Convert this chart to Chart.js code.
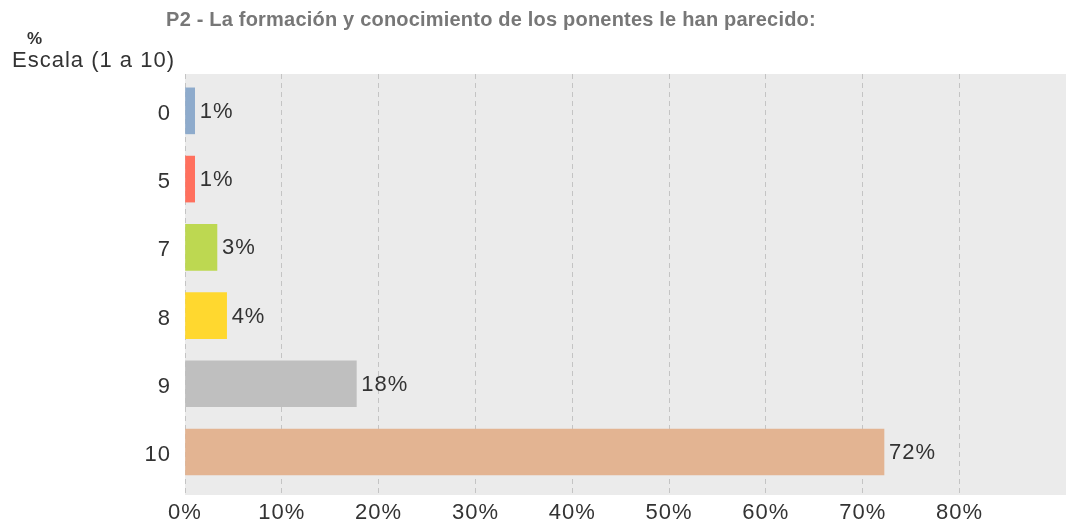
<!DOCTYPE html>
<html>
<head>
<meta charset="utf-8">
<script src="https://cdn.jsdelivr.net/npm/chart.js@4/dist/chart.umd.min.js"></script>
<style>
  body { margin: 0; background: #fff; }
  #c { display: block; }
</style>
</head>
<body>
<canvas id="c" width="1066" height="523"></canvas>
<script>
const categories = ["0", "5", "7", "8", "9", "10"];
const percents = [1.0, 1.0, 3.3, 4.3, 17.7, 72.2];
const barColors = ["#8eabcc", "#ff705e", "#bdd851", "#ffd82f", "#bfbfbf", "#e3b492"];
const tickValues = [0, 10, 20, 30, 40, 50, 60, 70, 80];

const chartTitle = "P2 - La formación y conocimiento de los ponentes le han parecido:";
const FONT = "'Liberation Sans', Arial, sans-serif";

// background, spacing and the free texts around the plot
const decor = {
    id: "decor",
    beforeDraw(chart) {
        const { ctx, chartArea: a } = chart;
        ctx.letterSpacing = "1px";
        ctx.save();
        ctx.fillStyle = "#ebebeb";
        ctx.fillRect(a.left, a.top, a.right - a.left, a.bottom - a.top);

        ctx.fillStyle = "#777";
        ctx.font = "bold 20px " + FONT;
        ctx.textAlign = "center";
        ctx.textBaseline = "middle";
        ctx.letterSpacing = "0.2px";
        ctx.fillText(chartTitle, 491, 20);

        ctx.letterSpacing = "1px";
        ctx.fillStyle = "#333";
        ctx.font = "bold 17px " + FONT;
        ctx.fillText("%", 35, 39);
        ctx.font = "22px " + FONT;
        ctx.textAlign = "left";
        ctx.fillText("Escala (1 a 10)", 12, 61);
        ctx.restore();
    },
    afterDatasetsDraw(chart) {
        const { ctx } = chart;
        ctx.save();
        ctx.fillStyle = "#333";
        ctx.font = "22px " + FONT;
        ctx.textAlign = "left";
        ctx.textBaseline = "middle";
        chart.getDatasetMeta(0).data.forEach((bar, i) => {
            ctx.fillText(Math.round(percents[i]) + "%", bar.x + 5, bar.y + 1);
        });
        ctx.restore();
    }
};

new Chart(document.getElementById("c"), {
    type: "bar",
    data: {
        datasets: [{
            data: percents.map((v, i) => ({ x: v, y: i })),
            backgroundColor: barColors,
            borderWidth: 0,
            barThickness: 46
        }]
    },
    options: {
        indexAxis: "y",
        responsive: false,
        animation: false,
        layout: { padding: { top: 74, right: 0, left: 0, bottom: 0 } },
        plugins: {
            legend: { display: false },
            tooltip: { enabled: false }
        },
        scales: {
            x: {
                type: "linear",
                min: 0,
                max: 91,
                afterBuildTicks(scale) {
                    scale.ticks = tickValues.map(v => ({ value: v }));
                },
                afterFit(scale) { scale.height = 28; },
                grid: { color: "#c4c4c4", drawTicks: false },
                border: { display: false, dash: [5, 4] },
                ticks: {
                    padding: 5,
                    color: "#333",
                    font: { family: FONT, size: 22 },
                    callback: v => v + "%"
                }
            },
            y: {
                type: "linear",
                offset: false,
                reverse: true,
                min: -0.54,
                max: 5.63,
                afterBuildTicks(scale) {
                    scale.ticks = categories.map((c, i) => ({ value: i }));
                },
                afterFit(scale) { scale.width = 185; },
                grid: { display: false, drawTicks: false },
                border: { display: false },
                ticks: {
                    padding: 14,
                    labelOffset: 3,
                    color: "#333",
                    font: { family: FONT, size: 22 },
                    callback: v => categories[v]
                }
            }
        }
    },
    plugins: [decor]
});
</script>
</body>
</html>
